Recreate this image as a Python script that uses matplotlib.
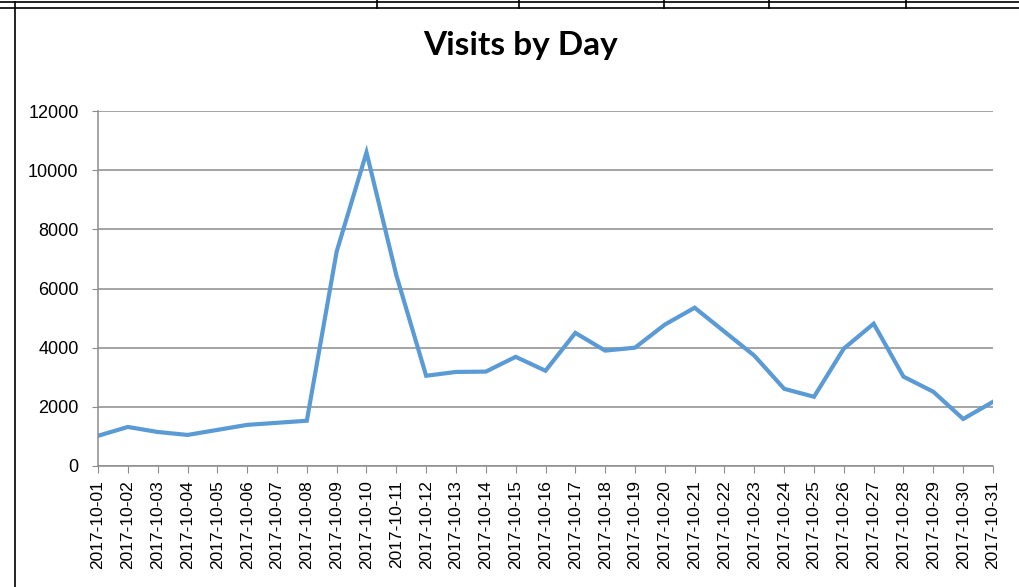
import matplotlib
matplotlib.use("Agg")
import matplotlib.pyplot as plt
from matplotlib.lines import Line2D

days = ["2017-10-%02d" % d for d in range(1, 32)]
visits = [1020, 1320, 1150, 1050, 1220, 1390, 1460, 1530, 7250, 10600,
          6450, 3050, 3180, 3190, 3690, 3220, 4500, 3900, 4000, 4780,
          5350, 4540, 3730, 2610, 2340, 3970, 4810, 3020, 2510, 1590, 2170]
yticks = [0, 2000, 4000, 6000, 8000, 10000, 12000]

W, H = 1020, 587
fig = plt.figure(figsize=(W / 100, H / 100), dpi=100)
ax = fig.add_axes([98 / W, 1 - 466 / H, (993 - 98) / W, (466 - 111) / H])

x = list(range(len(days)))
ax.plot(x, visits, color="#5B9BD5", linewidth=3.0, solid_joinstyle="miter")

grid = "#8C8C8C"
ax.set_xlim(0, len(days) - 1)
ax.set_ylim(0, 12000)
ax.set_yticks(yticks)
ax.set_yticklabels([str(v) for v in yticks], fontsize=13, family="Liberation Sans")
ax.set_xticks(x)
ax.set_xticklabels(days, rotation=90, fontsize=12.5, family="Liberation Sans")
ax.grid(axis="y", color=grid, linewidth=1.1)
ax.set_axisbelow(True)
for s in ["top", "right"]:
    ax.spines[s].set_visible(False)
for s in ["left", "bottom"]:
    ax.spines[s].set_color(grid)
    ax.spines[s].set_linewidth(1.1)
ax.tick_params(axis="x", length=5, color=grid, pad=5)
ax.tick_params(axis="y", length=4, color=grid, pad=10)

fig.text(521 / W, 1 - 45 / H, "Visits by Day", ha="center", va="center",
         fontsize=24, fontweight="bold", family="Lato")

# spreadsheet cell borders around the chart
k = "black"
fig.add_artist(Line2D([0, 1], [1 - 2 / H, 1 - 2 / H], color=k, lw=1.2))
fig.add_artist(Line2D([0, 1], [1 - 8 / H, 1 - 8 / H], color=k, lw=1.2))
fig.add_artist(Line2D([15 / W, 15 / W], [0, 1 - 2 / H], color=k, lw=1.2))
for sx in [377, 519, 664, 769, 906]:
    fig.add_artist(Line2D([sx / W, sx / W], [1 - 8 / H, 1], color=k, lw=1.2))

fig.savefig("out.png", dpi=100)
